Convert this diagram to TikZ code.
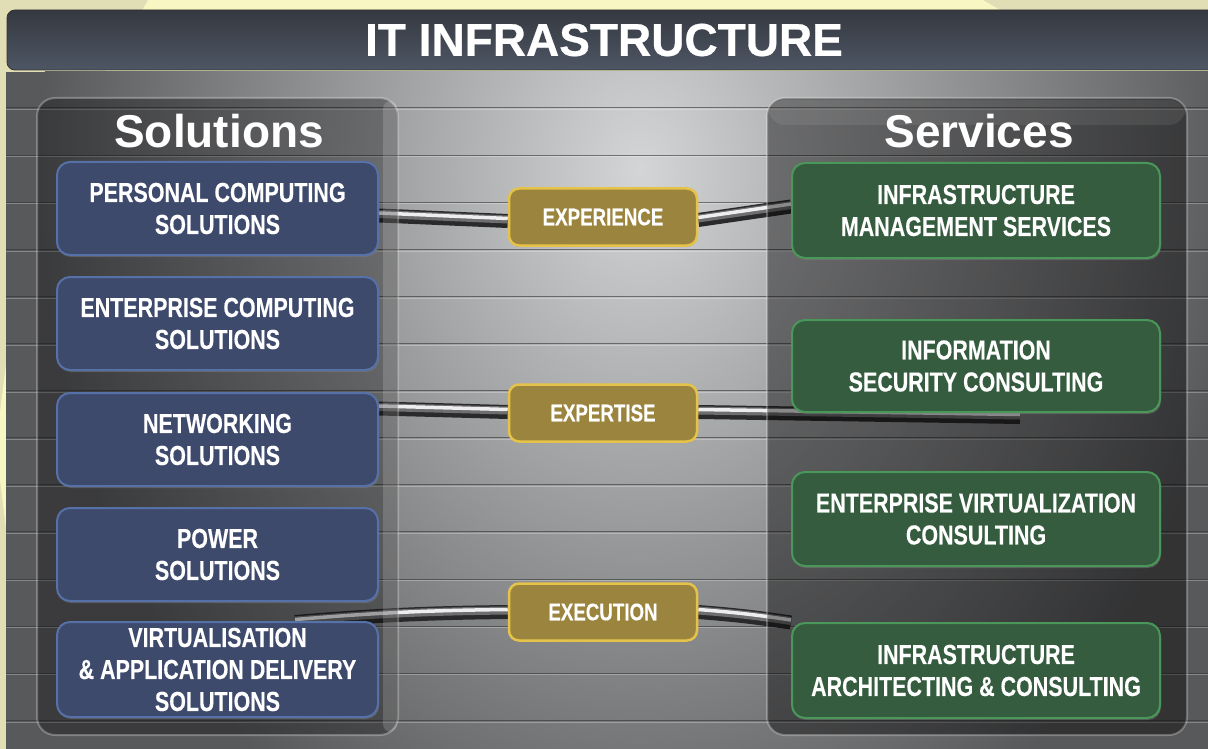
\documentclass[tikz,border=0pt]{standalone}
\usepackage{fontspec}
\setmainfont{Liberation Sans}
\newfontfamily\condfont[FakeStretch=0.78, BoldFeatures={FakeBold=0.25}]{Liberation Sans}
\newfontfamily\titlefont[BoldFeatures={FakeBold=0.6}]{Liberation Sans}
\usetikzlibrary{shadows}
\pgfdeclarelayer{bg}
\pgfsetlayers{bg,main}
\definecolor{bgyellow}{HTML}{F8F6C2}
\definecolor{bgbeige}{HTML}{E1DDB5}
\definecolor{titletop}{HTML}{353940}
\definecolor{titlebot}{HTML}{4E5664}
\definecolor{bluefill}{HTML}{3E4A6C}
\definecolor{bluerim}{HTML}{5670A8}
\definecolor{greenfill}{HTML}{355C3F}
\definecolor{greenrim}{HTML}{4A9859}
\definecolor{goldfill}{HTML}{9B853E}
\definecolor{goldrim}{HTML}{E5C24A}
\definecolor{paneldark}{HTML}{58595B}
\definecolor{panellight}{HTML}{D4D5D7}
\definecolor{tubegray}{HTML}{2A2A2C}
\definecolor{tubemid}{HTML}{6E6E70}
\definecolor{tubehi}{HTML}{EDEDEF}
\begin{document}
\begin{tikzpicture}[x=1pt,y=-1pt,
  box/.style={rounded corners=13pt, line width=2pt, minimum height=93pt,
    align=center, text=white, inner sep=0pt,
    font=\condfont\bfseries\fontsize{27.5}{32}\selectfont,
    drop shadow={opacity=0.45, shadow xshift=1pt, shadow yshift=-2pt}},
  solbox/.style={box, fill=bluefill, draw=bluerim, minimum width=321pt},
  svcbox/.style={box, fill=greenfill, draw=greenrim, minimum width=368pt},
  goldbox/.style={rounded corners=10pt, line width=2.5pt, fill=goldfill, draw=goldrim,
    minimum width=188pt, minimum height=57pt, text=white, inner sep=0pt,
    font=\condfont\bfseries\fontsize{24}{26}\selectfont,
    drop shadow={opacity=0.35, shadow xshift=0pt, shadow yshift=-1.5pt}},
  paneltitle/.style={font=\bfseries\fontsize{46}{46}\selectfont, text=white, inner sep=0pt},
  hline/.style={line width=1pt, draw=black!80, draw opacity=0.6},
  hlinehi/.style={line width=0.8pt, draw=white, draw opacity=0.28},
  tubedark/.style={line width=14pt, draw=tubegray},
  tubemidl/.style={line width=8pt, draw=tubemid, transform canvas={yshift=1.5pt}},
  tubelight/.style={line width=3.5pt, draw=tubehi, transform canvas={yshift=2.5pt}},
  glass/.style={rounded corners=18pt, fill=black, draw=white, draw opacity=0.28, line width=2pt}
]
\useasboundingbox (0,0) rectangle (1208,749);
% ---- nodes (main layer)
\node[font=\titlefont\bfseries\fontsize{46}{46}\selectfont, text=white, inner sep=0pt] (title) at (604,40) {IT INFRASTRUCTURE};
\node[paneltitle] (soltitle) at (219,131) {Solutions};
\node[paneltitle] (svctitle) at (979,131) {Services};
\node[goldbox] (e1) at (603,217) {EXPERIENCE};
\node[goldbox] (e2) at (603,413) {EXPERTISE};
\node[goldbox] (e3) at (603,612) {EXECUTION};
\node[solbox] (b1) at (217.5,208.5) {PERSONAL COMPUTING\\SOLUTIONS};
\node[solbox] (b2) at (217.5,323.5) {ENTERPRISE COMPUTING\\SOLUTIONS};
\node[solbox] (b3) at (217.5,439.5) {NETWORKING\\SOLUTIONS};
\node[solbox] (b4) at (217.5,554.5) {POWER\\SOLUTIONS};
\node[solbox, minimum height=95pt] (b5) at (217.5,669.5) {VIRTUALISATION\\\& APPLICATION DELIVERY\\SOLUTIONS};
\node[svcbox, minimum height=95pt] (g1) at (976,210.5) {INFRASTRUCTURE\\MANAGEMENT SERVICES};
\node[svcbox, minimum height=92pt] (g2) at (976,366) {INFORMATION\\SECURITY CONSULTING};
\node[svcbox, minimum height=94pt] (g3) at (976,519) {ENTERPRISE VIRTUALIZATION\\CONSULTING};
\node[svcbox, minimum height=95pt] (g4) at (976,670.5) {INFRASTRUCTURE\\ARCHITECTING \& CONSULTING};
\coordinate (t2end) at (1020,417);
\coordinate (t3start) at (295,622);
% ---- background layer
\begin{pgfonlayer}{bg}
\fill[bgyellow] (0,0) rectangle (1208,749);
\fill[bgbeige] (0,0) -- (148,0) -- (0,250) -- cycle;
\fill[bgbeige] (0,0) rectangle (6,749);
\fill[bgyellow] (0,412) -- (6,364) -- (6,529) -- (0,480) -- cycle;
\fill[bgbeige] (983,0) -- (1208,0) -- (1208,12) -- (1004,12) -- cycle;
\shade[top color=titletop, bottom color=titlebot, rounded corners=8pt, draw=black!80, line width=0.8pt]
  (7,10) rectangle (1222,70);
\begin{scope}
\clip (6,72) rectangle (1208,749);
\fill[paneldark] (6,72) rectangle (1208,749);
\shade[inner color=panellight, outer color=paneldark] (640,170) ellipse (600 and 760);
\foreach \k in {0,...,13} {
  \draw[hline] (6,{108+47.1*\k}) -- (1208,{108+47.1*\k});
  \draw[hlinehi] (6,{109.6+47.1*\k}) -- (1208,{109.6+47.1*\k});
}
\end{scope}
% tubes
\foreach \st in {tubedark,tubemidl,tubelight} {
  \draw[\st] ([yshift=-7pt]b1.east) -- ([yshift=-4pt]e1.west);
  \draw[\st] ([yshift=-3pt]e1.east) -- ([yshift=4pt]g1.west);
  \draw[\st] ([yshift=31pt]b3.east) -- ([yshift=1pt]e2.west);
  \draw[\st] ([yshift=1pt]e2.east) -- (t2end);
  \draw[\st] (t3start) to[bend left=2] (e3.west);
  \draw[\st] (e3.east) to[bend left=2] ([yshift=48pt]g4.west);
}
% glass panels
\draw[glass, fill opacity=0.33] (37,98) rectangle (398,735);
\fill[white, opacity=0.16, rounded corners=8pt] (383,101) rectangle (397,732);
\draw[glass, fill opacity=0.42] (767,98) rectangle (1187,735);
\fill[white, opacity=0.08, rounded corners=16pt] (769,100) rectangle (1185,125);
\end{pgfonlayer}
\end{tikzpicture}
\end{document}
